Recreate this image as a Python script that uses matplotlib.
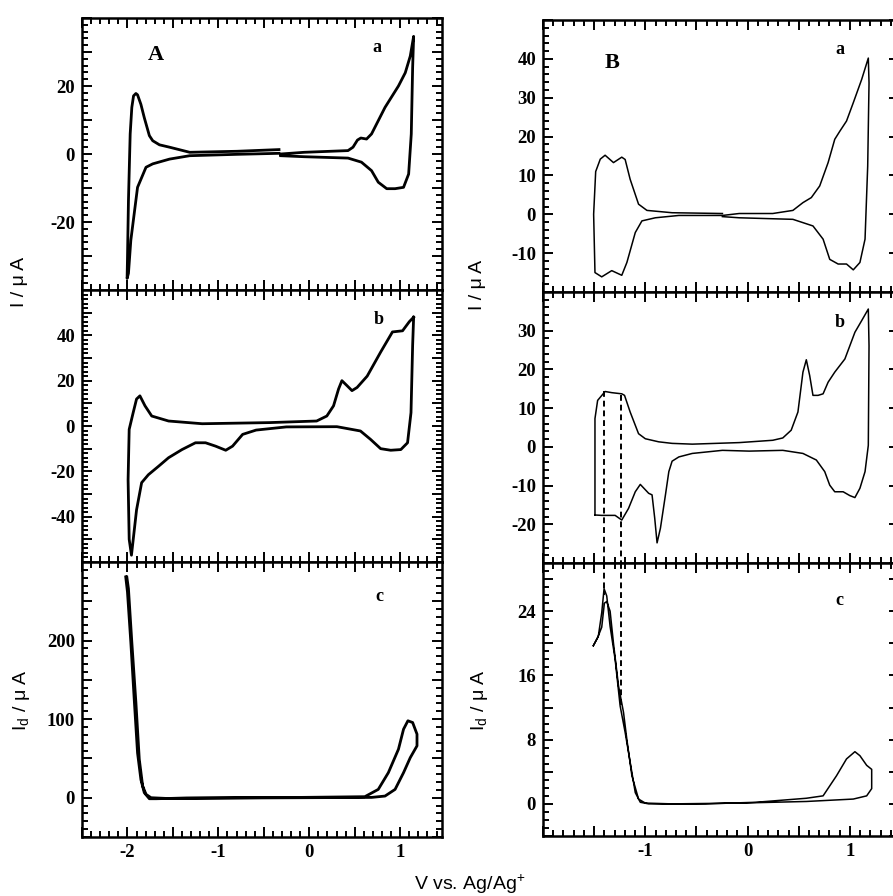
import matplotlib
matplotlib.use("Agg")
import matplotlib.pyplot as plt
from matplotlib.ticker import MultipleLocator, FuncFormatter

plt.rcParams['axes.unicode_minus'] = False
plt.rcParams['mathtext.fontset'] = 'custom'
plt.rcParams['mathtext.rm'] = 'Liberation Sans'
plt.rcParams['font.family'] = ['Liberation Serif', 'DejaVu Serif']

# ---------------- data (V vs Ag/Ag+, current in uA) ----------------
# Column A, panel a: two pieces
Aa1_v = [-0.333, -0.796, -1.315, -1.463, -1.537, -1.648, -1.722, -1.759, -1.815, -1.852, -1.889,
         -1.907, -1.933, -1.952, -1.970, -1.989, -2.000, -2.004, -1.989, -1.963, -1.926, -1.889,
         -1.796, -1.722, -1.537, -1.315, -0.796, -0.333]
Aa1_i = [1.3, 0.8, 0.5, 1.5, 2.0, 2.7, 3.9, 5.4, 10.7, 14.6, 17.4,
         17.8, 17.1, 13.7, 5.9, -13.7, -31.2, -36.6, -35.1, -25.4, -17.6, -9.8,
         -3.9, -2.9, -1.5, -0.5, -0.1, 0.2]
Aa2_v = [-0.315, -0.056, 0.426, 0.481, 0.530, 0.567, 0.630, 0.685, 0.833, 0.981, 1.056, 1.111,
         1.148, 1.137, 1.122, 1.093, 1.037, 0.944, 0.852, 0.759, 0.685, 0.574, 0.426, -0.056, -0.315]
Aa2_i = [0.0, 0.5, 1.0, 2.0, 4.1, 4.7, 4.4, 5.9, 13.7, 20.0, 23.9, 28.8,
         34.6, 25.4, 5.9, -5.9, -9.8, -10.2, -10.2, -8.3, -4.9, -2.4, -1.2, -0.8, -0.5]

# Column A, panel b
Ab_v = [1.148, 1.100, 1.026, 0.915, 0.785, 0.637, 0.526, 0.470, 0.415, 0.359, 0.322, 0.267, 0.193,
        0.081, -0.437, -1.178, -1.548, -1.733, -1.807, -1.863, -1.900, -1.937, -1.981, -1.993,
        -1.981, -1.956, -1.900, -1.844, -1.770, -1.659, -1.548, -1.400, -1.252, -1.141, -1.030,
        -0.919, -0.844, -0.733, -0.585, -0.252, 0.304, 0.563, 0.674, 0.785, 0.896, 1.007, 1.081,
        1.119, 1.137, 1.148]
Ab_i = [48, 46, 42, 41.5, 32.6, 22, 17, 15.6, 17.8, 20, 16.3, 8.9, 4.4,
        2.2, 1.5, 1.0, 2.2, 4.4, 8.9, 13.3, 11.9, 5.9, -1.5, -23.7,
        -50, -57, -37, -25, -21.5, -17.8, -14, -10.4, -7.4, -7.4, -8.9,
        -10.7, -8.9, -3.7, -1.8, -0.4, -0.3, -2.2, -5.9, -10, -10.7, -10.4, -7.4,
        5.9, 35.6, 48]

# Column A, panel c (disk current)
Ac_v = [-2.019, -2.000, -1.963, -1.926, -1.889, -1.852, -1.815, -1.759, -1.685, -1.352, -0.093,
        0.611, 0.759, 0.870, 0.981, 1.037, 1.085, 1.137, 1.185, 1.185, 1.111, 1.037, 0.944, 0.833,
        0.685, -0.833, -1.574, -1.741, -1.796, -1.833, -1.870, -1.907, -1.952, -1.989, -2.007]
Ac_i = [281, 262, 198, 126, 57, 23, 6.4, -1.3, -1.3, -0.4, 0.4,
        1.3, 10.6, 31.9, 61.7, 87.2, 97.9, 95.7, 80.9, 66, 51, 31.9, 10.6, 2.1,
        0.4, -0.4, -0.9, 0.0, 4.3, 15, 49, 121, 198, 266, 281]

# Column B, panel a
Ba_v = [-0.246, -0.738, -0.984, -1.066, -1.148, -1.197, -1.230, -1.311, -1.393, -1.440, -1.485,
        -1.505, -1.492, -1.426, -1.328, -1.230, -1.180, -1.098, -1.033, -0.902, -0.672, -0.246,
        -0.082, 0.246, 0.443, 0.541, 0.623, 0.705, 0.787, 0.852, 0.902, 0.967, 1.033, 1.115,
        1.180, 1.187, 1.174, 1.148, 1.098, 1.033, 0.967, 0.885, 0.803, 0.738, 0.639, 0.443,
        -0.082, -0.246]
Ba_i = [0.2, 0.4, 1.0, 2.6, 9.0, 14.1, 14.7, 13.3, 15.2, 14.2, 11.0,
        0.0, -15.0, -16.1, -14.5, -15.7, -12.4, -4.7, -1.7, -0.9, -0.3, -0.3,
        0.2, 0.2, 1.0, 3.0, 4.3, 7.3, 13.3, 19.3, 21.4, 24.0, 28.7, 34.7,
        40.2, 33.8, 12.4, -6.4, -12.4, -14.3, -12.8, -12.8, -11.6, -6.4, -3.0, -1.3,
        -0.9, -0.6]

# Column B, panel b
Bb_v = [-1.492, -1.492, -1.466, -1.393, -1.328, -1.230, -1.203, -1.148, -1.066, -1.000, -0.869,
        -0.738, -0.541, -0.082, 0.246, 0.344, 0.426, 0.492, 0.541, 0.574, 0.607, 0.639, 0.689,
        0.738, 0.787, 0.852, 0.951, 1.049, 1.115, 1.180, 1.187, 1.180, 1.148, 1.098, 1.049,
        1.000, 0.934, 0.852, 0.803, 0.754, 0.672, 0.541, 0.344, 0.016, -0.246, -0.541, -0.672,
        -0.738, -0.770, -0.803, -0.852, -0.885, -0.908, -0.934, -0.967, -1.049, -1.098, -1.164,
        -1.230, -1.295, -1.361, -1.426, -1.492]
Bb_i = [-17.6, 7.3, 12.0, 14.3, 14.0, 13.7, 13.3, 9.0, 3.4, 2.1, 1.3,
        0.9, 0.7, 1.1, 1.7, 2.3, 4.3, 9.0, 19.3, 22.5, 18.4, 13.3, 13.3,
        13.7, 16.7, 19.3, 22.7, 29.6, 32.6, 35.6, 26.1, 0.4, -6.4, -10.7, -13.1,
        -12.6, -11.6, -11.6, -9.9, -6.4, -3.4, -1.7, -0.9, -1.1, -0.9, -1.7, -2.6,
        -3.7, -6.4, -12.4, -21.0, -24.8, -18.4, -12.4, -12.0, -9.7, -11.6, -15.9,
        -18.9, -17.7, -17.7, -17.7, -17.6]

# Column B, panel c (disk current)
Bc_v = [-1.508, -1.459, -1.426, -1.403, -1.377, -1.344, -1.295, -1.246, -1.197, -1.148, -1.098,
        -1.049, -0.967, -0.410, 0.082, 0.574, 0.738, 0.869, 0.967, 1.049, 1.098, 1.164, 1.213,
        1.213, 1.164, 1.033, 0.574, -0.082, -0.738, -1.000, -1.066, -1.131, -1.180, -1.213,
        -1.262, -1.311, -1.344, -1.377, -1.400, -1.426, -1.466, -1.508]
Bc_i = [19.7, 20.9, 23.8, 26.8, 25.9, 22.1, 18.0, 12.2, 8.9, 5.2, 1.4,
        0.2, 0.0, 0.0, 0.2, 0.7, 1.0, 3.5, 5.6, 6.5, 6.0, 4.8, 4.3,
        1.9, 1.0, 0.6, 0.3, 0.1, 0.0, 0.1, 0.6, 3.5, 8.0, 11.4,
        14.7, 20.0, 24.0, 25.2, 25.0, 22.0, 20.7, 19.7]

# dashed guide lines (potentials of the two cathodic features)
guide_v = [-1.40, -1.236]
guide_top_b = [14.3, 13.5]
guide_bot_c = [26.0, 12.0]

ylims = {'Aa': (-40, 40), 'Ab': (-60, 60), 'Ac': (-50, 300),
         'Ba': (-20, 50), 'Bb': (-30, 40), 'Bc': (-4, 30)}
ymaj = {'Aa': 10, 'Ab': 10, 'Ac': 50, 'Ba': 10, 'Bb': 10, 'Bc': 4}
ymin_ = {'Aa': 2, 'Ab': 2, 'Ac': 10, 'Ba': 2, 'Bb': 2, 'Bc': 1}
ylabstep = {'Aa': 20, 'Ab': 20, 'Ac': 100, 'Ba': 10, 'Bb': 10, 'Bc': 8}
xlims = {'A': (-2.5, 1.46), 'B': (-2.0, 1.48)}
xlabels = {'A': [-2, -1, 0, 1], 'B': [-1, 0, 1]}

# ---------------- figure ----------------
W, H = 893, 896
fig = plt.figure(figsize=(W / 100, H / 100), dpi=100)


def px_axes(x0, y0, x1, y1):
    return fig.add_axes([x0 / W, 1 - y1 / H, (x1 - x0) / W, (y1 - y0) / H])


boxes = {'Aa': (82, 18, 442, 290), 'Ab': (82, 290, 442, 562), 'Ac': (82, 562, 442, 837),
         'Ba': (543, 20, 899, 292), 'Bb': (543, 292, 899, 563), 'Bc': (543, 563, 899, 836)}


def yfmt(step, lo, hi):
    def f(v, p):
        if abs(v - lo) < 1e-6 or abs(v - hi) < 1e-6:
            return ""
        return f"{int(round(v))}" if abs(v / step - round(v / step)) < 1e-6 else ""
    return FuncFormatter(f)


axes = {}
for key, box in boxes.items():
    ax = px_axes(*box)
    axes[key] = ax
    col = key[0]
    ax.set_xlim(*xlims[col])
    ax.set_ylim(*ylims[key])
    ax.xaxis.set_major_locator(MultipleLocator(0.5))
    ax.xaxis.set_minor_locator(MultipleLocator(0.1))
    ax.yaxis.set_major_locator(MultipleLocator(ymaj[key]))
    ax.yaxis.set_minor_locator(MultipleLocator(ymin_[key]))
    ax.yaxis.set_major_formatter(yfmt(ylabstep[key], *ylims[key]))
    labs = xlabels[col]
    if key[1] == 'c':
        ax.xaxis.set_major_formatter(FuncFormatter(
            lambda v, p, L=labs: f"{int(round(v))}" if any(abs(v - l) < 1e-6 for l in L) else ""))
    else:
        ax.xaxis.set_major_formatter(FuncFormatter(lambda v, p: ""))
    ax.tick_params(which='both', direction='in', top=True, right=True, width=1.4)
    ax.tick_params(which='major', length=7)
    ax.tick_params(which='minor', length=4)
    ax.tick_params(axis='both', which='major', pad=5)
    for lab in ax.get_xticklabels() + ax.get_yticklabels():
        lab.set_fontfamily('Liberation Serif')
        lab.set_fontweight('bold')
        lab.set_fontsize(13.5)
    for sp in ax.spines.values():
        sp.set_linewidth(1.8)

lwA, lwB = 2.0, 1.1
axes['Aa'].plot(Aa1_v, Aa1_i, color='black', lw=lwA)
axes['Aa'].plot(Aa2_v, Aa2_i, color='black', lw=lwA)
axes['Ab'].plot(Ab_v, Ab_i, color='black', lw=lwA)
axes['Ac'].plot(Ac_v, Ac_i, color='black', lw=lwA)
axes['Ba'].plot(Ba_v, Ba_i, color='black', lw=lwB)
axes['Bb'].plot(Bb_v, Bb_i, color='black', lw=lwB)
axes['Bc'].plot(Bc_v, Bc_i, color='black', lw=lwB)

for v, tb, bc in zip(guide_v, guide_top_b, guide_bot_c):
    axes['Bb'].plot([v, v], [tb, ylims['Bb'][0]], color='black', lw=1.4, ls=(0, (3, 2)))
    axes['Bc'].plot([v, v], [ylims['Bc'][1], bc], color='black', lw=1.4, ls=(0, (3, 2)))

# panel letters
axes['Aa'].text(0.204, 0.864, 'A', transform=axes['Aa'].transAxes, fontsize=16,
                fontweight='bold', family='Liberation Serif', ha='center', va='center')
axes['Ba'].text(0.195, 0.842, 'B', transform=axes['Ba'].transAxes, fontsize=16,
                fontweight='bold', family='Liberation Serif', ha='center', va='center')
for key, (xa, ya) in {'Aa': (0.818, 0.893), 'Ab': (0.825, 0.89), 'Ac': (0.825, 0.873),
                      'Ba': (0.833, 0.89), 'Bb': (0.833, 0.886), 'Bc': (0.833, 0.864)}.items():
    axes[key].text(xa, ya, key[1], transform=axes[key].transAxes, fontsize=13,
                   fontweight='bold', family='Liberation Serif', ha='center', va='center')

# axis labels
sans = dict(family='Liberation Sans', fontsize=14)
fig.text(20 / W, 1 - 282 / H, 'I / μ A', rotation=90, ha='center', va='center', **sans)
fig.text(22 / W, 1 - 700 / H, r'I$_\mathregular{d}$ / μ A', rotation=90, ha='center', va='center', **sans)
fig.text(477 / W, 1 - 285 / H, 'I / μ A', rotation=90, ha='center', va='center', **sans)
fig.text(480 / W, 1 - 700 / H, r'I$_\mathregular{d}$ / μ A', rotation=90, ha='center', va='center', **sans)
fig.text(470 / W, 1 - 884 / H, r'V vs. Ag/Ag$^\mathregular{+}$', ha='center', va='center', **sans)

fig.savefig('out.png', dpi=100)
